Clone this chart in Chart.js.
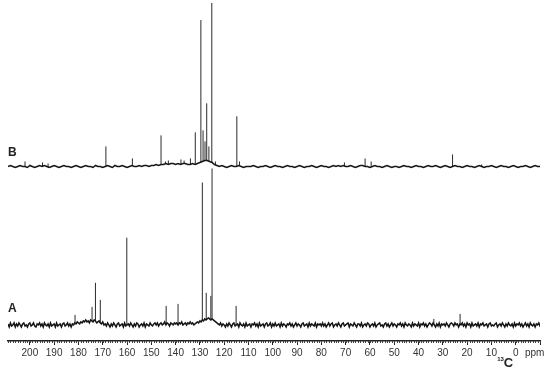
<!DOCTYPE html>
<html>
<head>
<meta charset="utf-8">
<script src="https://cdn.jsdelivr.net/npm/chart.js@4"></script>
<style>
  body { margin: 0; background: #fff; }
  #wrap { width: 550px; height: 377px; }
</style>
</head>
<body>
<div id="wrap"><canvas id="spectrum"></canvas></div>
<script>
// baseline samples start at 209 ppm and run downfield -> upfield
var baseStart = 209;
var stepA = 0.5;   // ppm between samples of trace A
var stepB = 1;     // ppm between samples of trace B
var baselineA = [
  1,-2,2,-1,0,2,-2,1,-1,2,0,-2,1,2,-1,0,-2,1,2,-1,
  0,2,-1,-2,1,0,2,-1,1,-2,2,0,-1,1,-2,2,-1,0,1,-2,
  2,-1,0,1,-2,1,2,-1,0,2,-1,1,-2,1,0,2,1,3,2,1,
  3,2,4,3,5,3,4,2,5,4,3,5,4,2,3,4,2,1,3,0,
  1,-1,2,0,-2,1,-1,2,0,-2,1,2,-1,0,1,-2,2,-1,0,1,
  -1,2,0,-2,1,-1,2,1,-2,0,1,-1,2,-2,1,0,-1,2,0,-1,
  1,2,0,2,-1,1,2,0,1,3,0,2,1,-1,2,1,0,2,1,2,
  0,2,1,3,0,1,2,0,2,1,3,1,2,0,1,2,3,2,4,3,
  5,4,6,5,6,7,6,5,6,5,4,3,2,1,0,2,-1,1,0,-2,
  1,-1,2,0,-2,1,2,-1,0,1,-2,2,0,-1,1,-2,2,-1,0,1,
  -2,1,0,2,-1,1,-2,2,-1,0,1,-2,1,2,-1,0,2,-2,1,-1,
  2,-1,0,1,-2,2,-1,1,0,-2,1,0,2,-1,1,-2,0,2,-1,1,
  0,-2,1,2,-1,0,1,-2,2,-1,1,0,-1,2,-2,1,0,1,-1,2,
  -1,1,-2,0,2,-1,1,2,-2,0,1,-1,2,0,-2,1,2,-1,0,1,
  2,-2,1,0,-1,2,0,-2,1,1,-1,2,-2,0,1,-1,2,1,-2,0,
  1,-1,2,-2,0,1,2,-1,0,-2,1,2,-1,1,-2,0,2,-1,1,0,
  -2,1,0,2,-1,1,-2,2,0,-1,1,0,-2,2,-1,1,0,-1,2,-2,
  1,0,2,-1,1,-2,0,2,1,-1,2,0,-2,1,-1,2,-2,1,0,1,
  -1,2,0,-2,1,2,1,-1,2,0,1,-2,1,0,2,-1,1,-2,2,0,
  1,-2,2,-1,0,1,-1,2,-2,1,0,2,-1,0,1,-2,1,2,-1,0,
  -1,1,2,-2,0,1,-1,2,0,-2,1,-1,2,0,-1,1,-2,2,-1,1,
  0,2,-1,1,-2,0,2,-1,1,-2,2,0,-1,1,-2,1,0,2,-1,0
];
var baselineB = [
  0,1,0,-1,0,1,0,0,-1,1,0,-1,0,1,0,1,0,-1,0,1,
  0,-1,0,1,0,0,-1,0,1,0,-1,0,1,0,0,-1,1,0,0,-1,
  0,1,0,-1,1,0,0,1,0,-1,0,1,0,0,1,0,1,1,0,1,
  1,2,1,2,2,3,2,3,3,2,3,2,3,3,2,2,3,2,3,4,
  5,6,6,5,4,2,1,0,1,0,-1,0,1,0,0,1,0,-1,0,0,
  0,1,0,-1,0,0,1,0,-1,0,1,0,0,-1,0,1,0,0,-1,0,
  1,0,-1,0,0,1,0,-1,0,1,0,0,-1,0,1,0,1,0,1,0,
  0,1,0,-1,0,1,1,0,0,-1,0,1,0,0,-1,0,1,0,-1,0,
  0,-1,0,1,0,0,-1,0,1,0,0,-1,0,1,0,0,1,0,-1,0,
  1,0,-1,0,1,0,0,-1,0,1,0,0,-1,0,1,0,-1,0,0,1,
  0,-1,0,1,0,0,-1,0,1,0,-1,0,0,1,0,-1,0,1,0,0
];

// peaks: chemical shift (ppm) and height above the baseline
var peaksA_ppm = [181.4, 174.4, 173, 171, 160.1, 143.9, 139, 129, 127.4, 125.5, 125, 115.1, 33.7, 22.9];
var peaksA_int = [10, 18, 42, 25, 87, 19, 21, 142, 32, 29, 156, 19, 6, 11];

var peaksB_ppm = [202, 194.8, 192.5, 168.7, 157.8, 146, 144.2, 143, 137.8, 136.5, 133.9, 131.9, 129.6,
                  128.7, 127.9, 127.2, 126.3, 125.1, 123.6, 114.8, 113.7, 70.5, 62, 59.5, 26, 14];
var peaksB_int = [5, 4, 3, 20, 8, 31, 5, 6, 7, 6, 8, 34, 146, 36, 25, 63, 20, 163, 5, 50, 5, 4, 8, 5, 12, 2];

var offsetA = 16;
var offsetB = 174;
var tickLabels = [200, 190, 180, 170, 160, 150, 140, 130, 120, 110, 100, 90, 80, 70, 60, 50, 40, 30, 20, 10, 0];

function baseline(base, step, offset) {
  return base.map(function (b, i) { return { x: baseStart - i * step, y: offset + b }; });
}

function sticks(base, step, ppms, ints, offset) {
  var pts = [];
  ppms.forEach(function (p, k) {
    var foot = offset + base[Math.round((baseStart - p) / step)];
    pts.push({ x: p, y: foot }, { x: p, y: offset + ints[k] }, { x: p, y: null });
  });
  return pts;
}

var extras = {
  id: 'extras',
  afterDraw: function (chart) {
    var c = chart.ctx, xs = chart.scales.x, ys = chart.scales.y;
    var bottom = chart.chartArea.bottom;
    c.save();
    // minor ticks every 1 ppm
    c.strokeStyle = '#444';
    c.lineWidth = 1;
    for (var v = -10; v <= 209; v++) {
      var px = Math.round(xs.getPixelForValue(v)) + 0.5;
      c.beginPath();
      c.moveTo(px, bottom);
      c.lineTo(px, bottom + 2);
      c.stroke();
    }
    c.fillStyle = '#222';
    c.font = 'bold 12px "Liberation Sans", Arial, sans-serif';
    c.textAlign = 'left';
    c.textBaseline = 'middle';
    c.fillText('B', xs.getPixelForValue(209), ys.getPixelForValue(offsetB + 14));
    c.fillText('A', xs.getPixelForValue(209), ys.getPixelForValue(offsetA + 16));
    c.font = '10px "Liberation Sans", Arial, sans-serif';
    c.fillStyle = '#333';
    c.textAlign = 'center';
    c.fillText('ppm', xs.getPixelForValue(-7.8), bottom + 12);
    c.fillStyle = '#222';
    c.font = 'bold 6px "Liberation Sans", Arial, sans-serif';
    c.textAlign = 'right';
    c.fillText('13', xs.getPixelForValue(4.9), bottom + 18);
    c.font = 'bold 13px "Liberation Sans", Arial, sans-serif';
    c.textAlign = 'left';
    c.fillText('C', xs.getPixelForValue(4.9), bottom + 22);
    c.restore();
  }
};

var ctx = document.getElementById('spectrum').getContext('2d');
var myChart = new Chart(ctx, {
  type: 'line',
  data: {
    datasets: [{
      label: 'A baseline',
      data: baseline(baselineA, stepA, offsetA),
      borderColor: '#151515',
      borderWidth: 1.5,
      pointRadius: 0,
      tension: 0
    }, {
      label: 'A peaks',
      data: sticks(baselineA, stepA, peaksA_ppm, peaksA_int, offsetA),
      borderColor: '#2a2a2a',
      borderWidth: 1,
      pointRadius: 0,
      spanGaps: false
    }, {
      label: 'B baseline',
      data: baseline(baselineB, stepB, offsetB),
      borderColor: '#151515',
      borderWidth: 1.5,
      pointRadius: 0,
      tension: 0
    }, {
      label: 'B peaks',
      data: sticks(baselineB, stepB, peaksB_ppm, peaksB_int, offsetB),
      borderColor: '#2a2a2a',
      borderWidth: 1,
      pointRadius: 0,
      spanGaps: false
    }]
  },
  options: {
    responsive: true,
    maintainAspectRatio: false,
    animation: false,
    layout: { padding: { left: 8, right: 10, top: 0, bottom: 16 } },
    plugins: { legend: { display: false }, tooltip: { enabled: false } },
    scales: {
      x: {
        type: 'linear',
        reverse: true,
        min: -10,
        max: 209,
        grid: { drawOnChartArea: false, tickLength: 4, color: '#222' },
        border: { display: true, color: '#222', width: 1.5 },
        ticks: {
          stepSize: 10,
          includeBounds: false,
          autoSkip: false,
          maxRotation: 0,
          padding: 2,
          color: '#333',
          font: { size: 10, family: '"Liberation Sans", Arial, sans-serif' },
          callback: function (v) { return tickLabels.indexOf(v) >= 0 ? v : ''; }
        }
      },
      y: { display: false, min: 0, max: 340 }
    }
  },
  plugins: [extras]
});
</script>
</body>
</html>
